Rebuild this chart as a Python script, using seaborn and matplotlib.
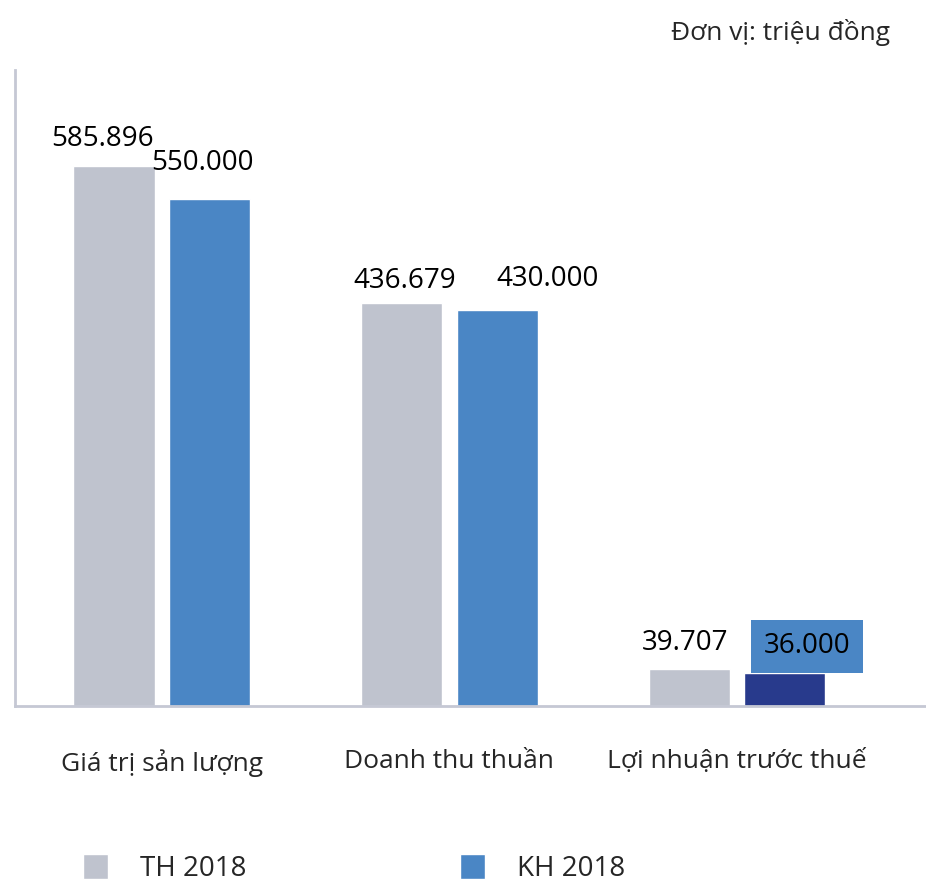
import pandas as pd
import seaborn as sns
import matplotlib.pyplot as plt

# values (trieu dong)
categories = ['Giá trị sản lượng', 'Doanh thu thuần', 'Lợi nhuận trước thuế']
th_2018 = [585896, 436679, 39707]
kh_2018 = [550000, 430000, 36000]
series = ['TH 2018', 'KH 2018']

df = pd.DataFrame({
    'cat': categories * 2,
    'val': th_2018 + kh_2018,
    'series': [series[0]] * 3 + [series[1]] * 3,
})

gray = '#bfc3ce'
blue = '#4a86c5'
navy = '#283a8c'
axis_col = '#c5c8d4'

# label nudges in points (the original labels are not centred)
label_dx = [[-8, 2, -3], [-5, 36, 16]]
label_dy = [[9, 6, 9], [16, 12, 19]]

sns.set_style('white')
plt.rcParams['font.family'] = ['Open Sans', 'DejaVu Sans']

fig = plt.figure(figsize=(9.26, 8.83), dpi=100)
ax = fig.add_axes([15 / 926, 1 - 706 / 883, 911 / 926, (706 - 70) / 883])

sns.barplot(df, x='cat', y='val', hue='series', palette=[gray, blue],
            width=0.664, gap=0.15, saturation=1, legend=True, ax=ax)

# last KH bar is drawn in navy in the original
ax.containers[1][2].set_facecolor(navy)

def fmt(v):
    return f'{v:,}'.replace(',', '.')

for ci, cont in enumerate(ax.containers):
    for bi, bar in enumerate(cont):
        v = bar.get_height()
        cx = bar.get_x() + bar.get_width() / 2
        off = (label_dx[ci][bi], label_dy[ci][bi])
        if ci == 1 and bi == 2:
            ax.annotate(fmt(int(v)), (cx, v), xytext=off,
                        textcoords='offset points', ha='center', va='center',
                        fontsize=20, color='black',
                        bbox=dict(boxstyle='square,pad=0.45', fc=blue, ec='none'))
        else:
            ax.annotate(fmt(int(v)), (cx, v), xytext=off,
                        textcoords='offset points', ha='center', va='bottom',
                        fontsize=20, color='black')

ax.set_xlim(-0.51, 2.657)
ax.set_ylim(0, 690000)
ax.set_xlabel('')
ax.set_ylabel('')
ax.set_yticks([])
ax.tick_params(axis='x', length=0, pad=31, labelsize=19)

for s in ['top', 'right']:
    ax.spines[s].set_visible(False)
for s in ['left', 'bottom']:
    ax.spines[s].set_color(axis_col)
    ax.spines[s].set_linewidth(2)

handles, labels = ax.get_legend_handles_labels()
ax.get_legend().remove()
fig.legend(handles, labels, loc='upper left', bbox_to_anchor=(72 / 926, 1 - 843 / 883),
           ncol=2, frameon=False, fontsize=20, handlelength=0.9, handleheight=1.0,
           handletextpad=1.15, columnspacing=7.7, borderaxespad=0)

fig.text(890 / 926, 1 - 32 / 883, 'Đơn vị: triệu đồng', ha='right', va='center', fontsize=19)

fig.savefig('out.png', dpi=100)
